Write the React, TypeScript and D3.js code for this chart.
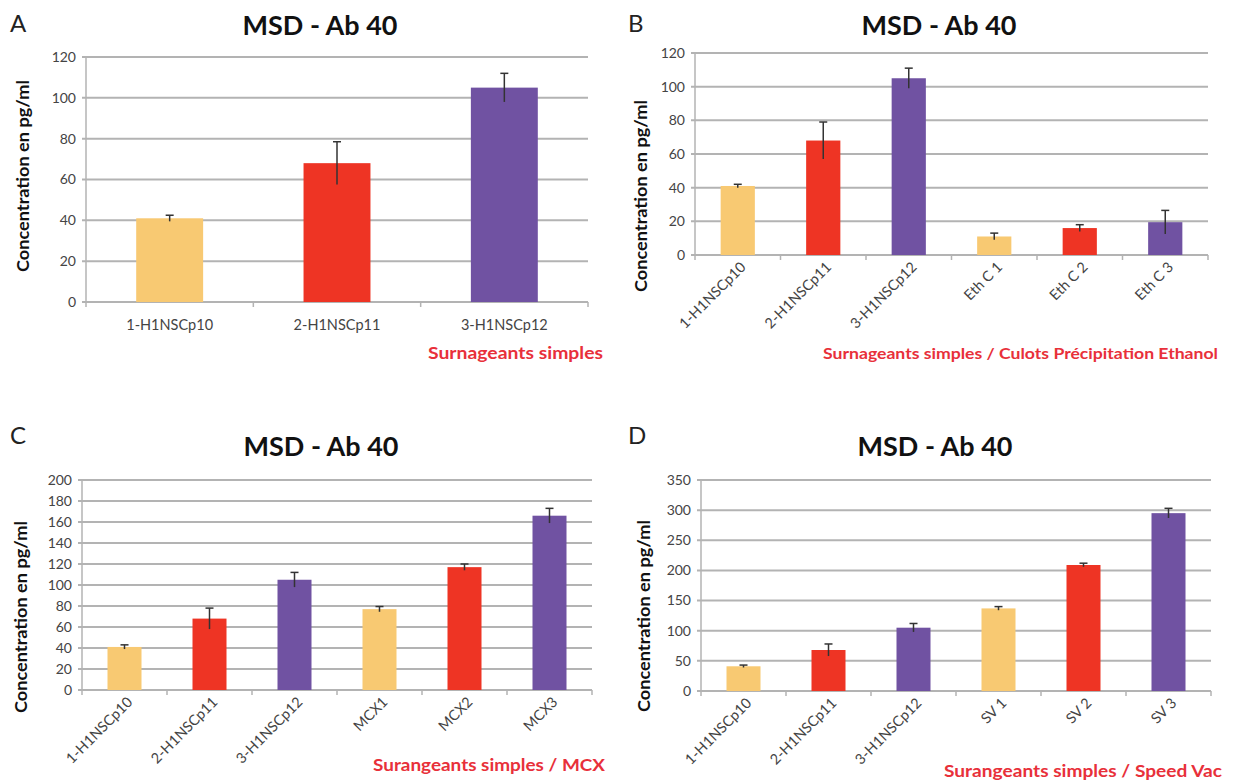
import React from "react";
import * as d3 from "d3";

const catsBase = ["1-H1NSCp10", "2-H1NSCp11", "3-H1NSCp12"];
const catsB = [...catsBase, "Eth C 1", "Eth C 2", "Eth C 3"];
const catsC = [...catsBase, "MCX1", "MCX2", "MCX3"];
const catsD = [...catsBase, "SV 1", "SV 2", "SV 3"];

const valsA = [41, 68, 105];
const errA = [1.5, 10.5, 7];
const valsB = [41, 68, 105, 11, 16, 19.5];
const errB = [1, 11, 6, 2, 2, 7];
const valsC = [41, 68, 105, 77, 117, 166];
const errC = [2, 10, 7, 2.5, 3, 7];
const valsD = [41, 68, 105, 137, 209, 295];
const errD = [2, 10, 7, 3, 3, 8];

const ticksA = [0, 20, 40, 60, 80, 100, 120];
const ticksC = [0, 20, 40, 60, 80, 100, 120, 140, 160, 180, 200];
const ticksD = [0, 50, 100, 150, 200, 250, 300, 350];

const palette = ["#F8C972", "#EE3424", "#7052A2"];

const titleText = "MSD - Ab 40";
const yLabel = "Concentration en pg/ml";

type Layout = {
  x0: number; x1: number; yTop: number; yBot: number;
  titleX: number; titleY: number; letterX: number; letterY: number;
  yLabX: number; yLabY: number; subX: number; subY: number; subW: number; subSize: number;
};

type PanelProps = {
  letter: string;
  cats: string[];
  vals: number[];
  errs: number[];
  ticks: number[];
  subtitle: string;
  rotate: boolean;
  layout: Layout;
};

const FONT = "Lato, 'Open Sans', sans-serif";

function Panel({ letter, cats, vals, errs, ticks, subtitle, rotate, layout }: PanelProps) {
  const L = layout;
  const x = d3.scaleBand<string>().domain(cats).range([L.x0, L.x1]).paddingInner(0.6).paddingOuter(0.3);
  const y = d3.scaleLinear().domain([0, ticks[ticks.length - 1]]).range([L.yBot, L.yTop]);
  const step = (L.x1 - L.x0) / cats.length;
  const gridColor = "#b3b3b3";
  return (
    <g>
      <text x={L.letterX} y={L.letterY} fontFamily={FONT} fontSize={24} fill="#222">{letter}</text>
      <text x={L.titleX} y={L.titleY} fontFamily={FONT} fontSize={27} fontWeight="bold" textAnchor="middle" fill="#111"
        textLength={155} lengthAdjust="spacingAndGlyphs">{titleText}</text>
      {ticks.map((t) => (
        <g key={t}>
          <line x1={L.x0 - 4} x2={L.x1} y1={y(t)} y2={y(t)} stroke={gridColor} strokeWidth={2} />
          <text x={L.x0 - 10} y={y(t)} dy="0.35em" textAnchor="end" fontFamily={FONT} fontSize={14} fill="#444">{t}</text>
        </g>
      ))}
      <line x1={L.x0} x2={L.x0} y1={L.yTop} y2={L.yBot} stroke={gridColor} strokeWidth={1.5} />
      {d3.range(cats.length + 1).map((i) => (
        <line key={i} x1={L.x0 + i * step} x2={L.x0 + i * step} y1={L.yBot} y2={L.yBot + 5} stroke={gridColor} strokeWidth={1.5} />
      ))}
      {cats.map((c, i) => {
        const bx = x(c)!;
        const bw = x.bandwidth();
        const cx = bx + bw / 2;
        return (
          <g key={c}>
            <rect x={bx} y={y(vals[i])} width={bw} height={L.yBot - y(vals[i])} fill={palette[i % 3]} />
            <line x1={cx} x2={cx} y1={y(vals[i] - errs[i])} y2={y(vals[i] + errs[i])} stroke="#333" strokeWidth={1.5} />
            <line x1={cx - 4} x2={cx + 4} y1={y(vals[i] + errs[i])} y2={y(vals[i] + errs[i])} stroke="#333" strokeWidth={1.5} />
            {rotate ? (
              <text transform={`translate(${cx + 9},${L.yBot + 13}) rotate(-45)`} textAnchor="end" fontFamily={FONT} fontSize={14.5} fill="#444">{c}</text>
            ) : (
              <text x={cx} y={L.yBot + 28} textAnchor="middle" fontFamily={FONT} fontSize={14.5} fill="#444">{c}</text>
            )}
          </g>
        );
      })}
      <text transform={`translate(${L.yLabX},${L.yLabY}) rotate(-90)`} textAnchor="middle" fontFamily={FONT} fontSize={17} fontWeight="bold" fill="#111"
        textLength={192} lengthAdjust="spacingAndGlyphs">{yLabel}</text>
      <text x={L.subX} y={L.subY} textAnchor="end" fontFamily={FONT} fontSize={L.subSize} fontWeight="bold" fill="#E8303A"
        textLength={L.subW} lengthAdjust="spacingAndGlyphs">{subtitle}</text>
    </g>
  );
}

export default function App() {
  return (
    <svg width={1234} height={784} style={{ position: "absolute", left: 0, top: 0, background: "#fff" }}>
      <rect width={1234} height={784} fill="#fff" />
      <Panel letter="A" cats={catsBase} vals={valsA} errs={errA} ticks={ticksA} subtitle="Surnageants simples" rotate={false}
        layout={{ x0: 86, x1: 588, yTop: 57, yBot: 302, titleX: 320, titleY: 35, letterX: 10, letterY: 32, yLabX: 29, yLabY: 176, subX: 603, subY: 359, subW: 175, subSize: 17 }} />
      <Panel letter="B" cats={catsB} vals={valsB} errs={errB} ticks={ticksA} subtitle="Surnageants simples / Culots Précipitation Ethanol" rotate={true}
        layout={{ x0: 695, x1: 1208, yTop: 53, yBot: 255, titleX: 939, titleY: 35, letterX: 628, letterY: 32, yLabX: 647, yLabY: 196, subX: 1218, subY: 359, subW: 395, subSize: 15.5 }} />
      <Panel letter="C" cats={catsC} vals={valsC} errs={errC} ticks={ticksC} subtitle="Surangeants simples / MCX" rotate={true}
        layout={{ x0: 82, x1: 592, yTop: 480, yBot: 690, titleX: 321, titleY: 456, letterX: 10, letterY: 444, yLabX: 27, yLabY: 617, subX: 605, subY: 771, subW: 232, subSize: 17 }} />
      <Panel letter="D" cats={catsD} vals={valsD} errs={errD} ticks={ticksD} subtitle="Surangeants simples / Speed Vac" rotate={true}
        layout={{ x0: 701, x1: 1211, yTop: 480, yBot: 691, titleX: 935, titleY: 456, letterX: 628, letterY: 444, yLabX: 650, yLabY: 616, subX: 1222, subY: 777, subW: 278, subSize: 17 }} />
    </svg>
  );
}
